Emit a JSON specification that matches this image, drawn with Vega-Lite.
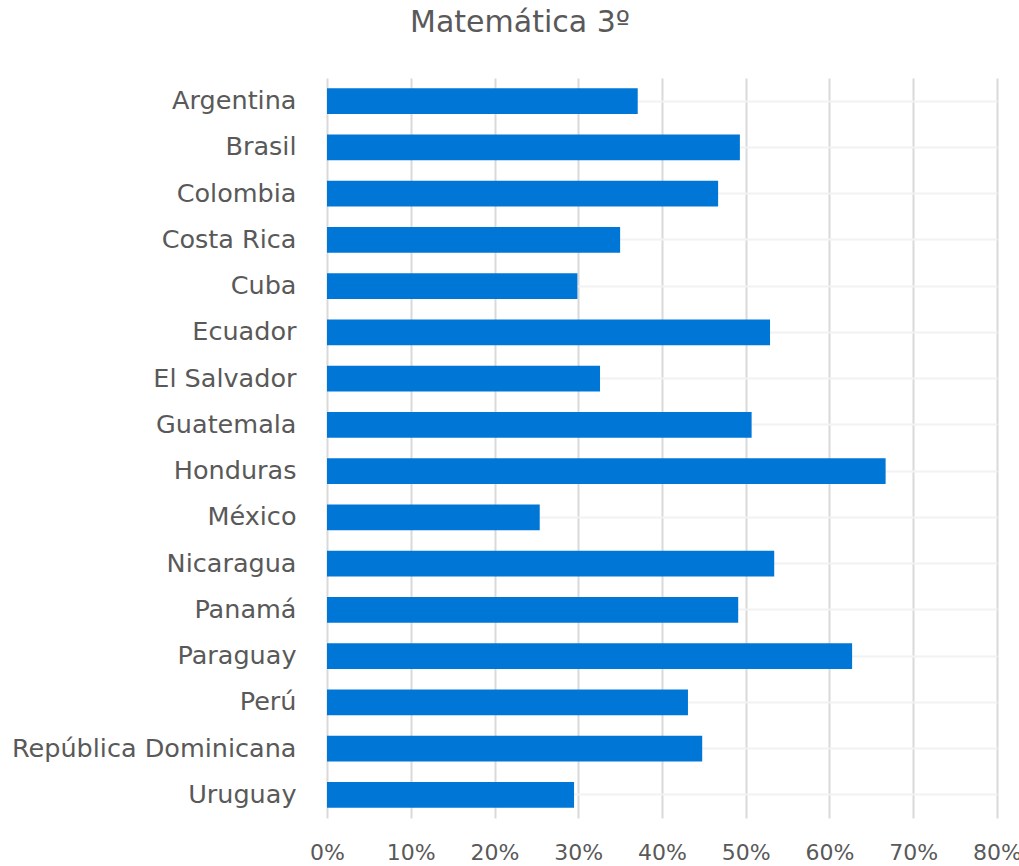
{
  "$schema": "https://vega.github.io/schema/vega-lite/v6.json",
  "autosize": "none",
  "width": 670,
  "height": 740,
  "padding": {"left": 327, "top": 78, "right": 22, "bottom": 48},
  "background": "white",
  "title": {
    "text": "Matemática 3º",
    "font": "DejaVu Sans",
    "fontSize": 30,
    "fontWeight": "normal",
    "color": "#595959",
    "anchor": "middle",
    "frame": "group",
    "baseline": "alphabetic",
    "offset": 16,
    "dx": -142
  },
  "data": {
    "values": [
      {"pais": "Argentina", "valor": 0.371},
      {"pais": "Brasil", "valor": 0.493},
      {"pais": "Colombia", "valor": 0.467},
      {"pais": "Costa Rica", "valor": 0.350},
      {"pais": "Cuba", "valor": 0.299},
      {"pais": "Ecuador", "valor": 0.529},
      {"pais": "El Salvador", "valor": 0.326},
      {"pais": "Guatemala", "valor": 0.507},
      {"pais": "Honduras", "valor": 0.667},
      {"pais": "México", "valor": 0.254},
      {"pais": "Nicaragua", "valor": 0.534},
      {"pais": "Panamá", "valor": 0.491},
      {"pais": "Paraguay", "valor": 0.627},
      {"pais": "Perú", "valor": 0.431},
      {"pais": "República Dominicana", "valor": 0.448},
      {"pais": "Uruguay", "valor": 0.295}
    ]
  },
  "mark": {"type": "bar", "color": "#0076d6"},
  "encoding": {
    "y": {
      "field": "pais",
      "type": "nominal",
      "sort": null,
      "scale": {"paddingInner": 0.445, "paddingOuter": 0.2225},
      "axis": {
        "title": null,
        "bandPosition": 0.5,
        "grid": true,
        "gridColor": "#f2f2f2",
        "gridWidth": 2,
        "ticks": false,
        "domain": false,
        "labelFont": "DejaVu Sans",
        "labelFontSize": 25.5,
        "labelColor": "#595959",
        "labelPadding": 31,
        "labelLimit": 0
      }
    },
    "x": {
      "field": "valor",
      "type": "quantitative",
      "scale": {"domain": [0, 0.8], "nice": false},
      "axis": {
        "title": null,
        "format": ".0%",
        "values": [0, 0.1, 0.2, 0.3, 0.4, 0.5, 0.6, 0.7, 0.8],
        "grid": true,
        "gridColor": "#d9d9d9",
        "gridWidth": 2,
        "ticks": false,
        "domain": false,
        "labelFont": "DejaVu Sans",
        "labelFontSize": 22,
        "labelColor": "#595959",
        "labelPadding": 24,
        "labelFlush": false
      }
    }
  },
  "config": {"view": {"stroke": null}}
}
